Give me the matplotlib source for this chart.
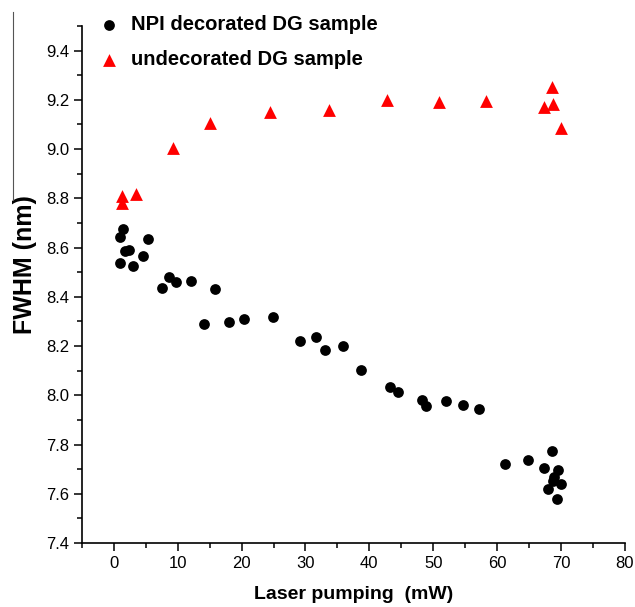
#!/usr/bin/env python3
"""FWHM vs laser pumping power for decorated and undecorated DG samples."""

import matplotlib
matplotlib.use('Agg')
import matplotlib.pyplot as plt
from matplotlib.lines import Line2D
from matplotlib.ticker import MultipleLocator

# NPI decorated DG sample (black circles)
npi_power = [1.4, 0.9, 1.0, 1.8, 2.4, 3.0, 4.6, 5.3, 7.5, 8.6, 9.8, 12.0,
             15.9, 14.1, 18.1, 20.4, 24.9, 29.1, 31.6, 33.1, 35.8, 38.7,
             43.3, 44.5, 48.2, 48.8, 52.0, 54.6, 57.2, 61.3, 64.9, 68.6,
             67.4, 69.6, 68.9, 70.0, 68.0, 68.8, 69.4]
npi_fwhm = [8.674, 8.641, 8.536, 8.586, 8.590, 8.525, 8.567, 8.634, 8.435,
            8.482, 8.460, 8.463, 8.433, 8.290, 8.299, 8.311, 8.317, 8.221,
            8.238, 8.185, 8.201, 8.102, 8.032, 8.014, 7.980, 7.955, 7.976,
            7.961, 7.946, 7.722, 7.738, 7.774, 7.703, 7.697, 7.670, 7.639,
            7.619, 7.650, 7.578]

# undecorated DG sample (red triangles)
und_power = [1.2, 1.3, 3.5, 9.3, 15.1, 24.5, 33.7, 42.8, 50.9, 58.2,
             67.4, 68.6, 68.8, 70.0]
und_fwhm = [8.810, 8.780, 8.816, 9.005, 9.105, 9.150, 9.160, 9.200, 9.190,
            9.195, 9.170, 9.252, 9.183, 9.085]

plt.rcParams['font.family'] = ['Liberation Sans', 'DejaVu Sans']

fig = plt.figure(figsize=(6.35, 6.07), dpi=100)
ax = fig.add_axes([0.129, 0.1054, 0.855, 0.8518])

ax.scatter(npi_power, npi_fwhm, s=60, marker='o', color='black',
           linewidths=0, label='NPI decorated DG sample', zorder=3)
ax.scatter(und_power, und_fwhm, s=85, marker='^', color='#ff0000',
           linewidths=0, label='undecorated DG sample', zorder=3)

ax.set_xlim(-5, 80)
ax.set_ylim(7.4, 9.5)
ax.xaxis.set_major_locator(MultipleLocator(10))
ax.xaxis.set_minor_locator(MultipleLocator(5))
ax.yaxis.set_major_locator(MultipleLocator(0.2))
ax.yaxis.set_minor_locator(MultipleLocator(0.1))
ax.set_yticks([7.4, 7.6, 7.8, 8.0, 8.2, 8.4, 8.6, 8.8, 9.0, 9.2, 9.4])
ax.set_xticks([0, 10, 20, 30, 40, 50, 60, 70, 80])

for side in ['top', 'right']:
    ax.spines[side].set_visible(False)
for side in ['left', 'bottom']:
    ax.spines[side].set_linewidth(1.2)

ax.tick_params(which='major', direction='out', length=6, width=1.1,
               labelsize=12, pad=3)
ax.tick_params(which='minor', direction='out', length=3.5, width=1.1)

ax.set_xlabel('Laser pumping  (mW)', fontsize=14, fontweight='bold',
              labelpad=11)
ax.set_ylabel('FWHM (nm)', fontsize=18, fontweight='bold')
ax.yaxis.set_label_coords((37 - 82) / 543, (543 - 265) / 517)

ax.legend(loc='upper left', bbox_to_anchor=(98.5 / 635, 1 - 15 / 607),
          bbox_transform=fig.transFigure, frameon=False,
          prop={'weight': 'bold', 'size': 14.5}, handlelength=1.0,
          handletextpad=0.6, borderpad=0, borderaxespad=0,
          labelspacing=0.8, scatterpoints=1)

# thin vertical rule at the left edge of the scan
fig.add_artist(Line2D([13 / 635, 13 / 635], [1 - 12 / 607, 1 - 200 / 607],
                      transform=fig.transFigure, color='#555555', lw=0.8))

plt.savefig('out.png', dpi=100)
plt.close()
